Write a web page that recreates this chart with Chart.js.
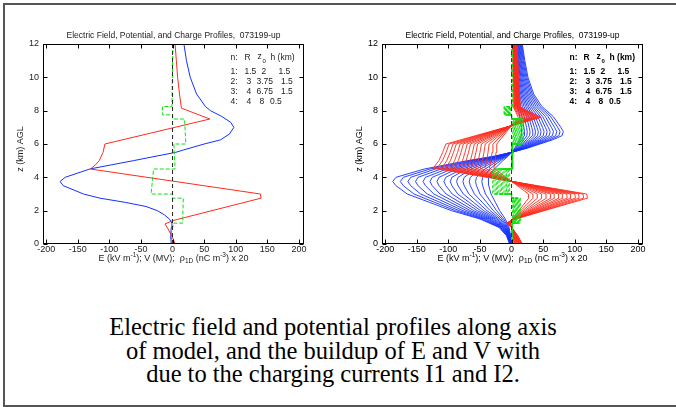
<!DOCTYPE html>
<html>
<head>
<meta charset="utf-8">
<script src="https://cdn.jsdelivr.net/npm/chart.js@4.4.1/dist/chart.umd.min.js"></script>
<style>
  body { margin: 0; width: 676px; height: 407px; background: #fff; position: relative; overflow: hidden; }
  .frame { position: absolute; left: 3px; top: 3px; width: 690px; height: 400px;
           border-top: 2px solid #555; border-left: 2px solid #555; border-bottom: 2px solid #555; }
  #leftChart { position: absolute; left: 0; top: 0; }
  #rightChart { position: absolute; left: 339px; top: 0; }
  .caption { position: absolute; left: 0; top: 315px; width: 666px; text-align: center;
             font-family: "Liberation Serif", "Times New Roman", serif; font-size: 24.5px; line-height: 23.5px; color: #000; }
</style>
</head>
<body>
<div class="frame"></div>
<canvas id="leftChart" width="338" height="280"></canvas>
<canvas id="rightChart" width="338" height="280"></canvas>
<div class="caption">Electric field and potential profiles along axis<br>of model, and the buildup of E and V with<br>due to the charging currents I1 and I2.</div>

<script>
// axis ticks
const xTicks = [-200, -150, -100, -50, 0, 50, 100, 150, 200];
const yTicks = [0, 2, 4, 6, 8, 10, 12];

// left panel: final profiles (z in km, values in plotted units)
const leftBlueZ = [0, 0.5, 1, 1.25, 1.5, 1.75, 2, 2.25, 2.5, 2.75, 3, 3.5, 3.75, 4, 4.5, 5, 5.5, 5.64, 6, 6.25, 6.6, 7, 7.3, 7.65, 8, 8.25, 9, 10, 11, 12];
const leftBlueE = [-2, -3, -2, -1, -5, -13, -24, -42, -75, -115, -141, -173, -178, -170, -131, -62, 5, 17, 50, 76, 90, 97, 92, 78, 60, 52, 38, 28, 22, 18];

const leftRedZ = [0, 0.3, 0.6, 0.9, 1.2, 1.4, 2.75, 3, 4.5, 4.75, 5, 5.5, 6, 7.5, 8.15, 9, 10, 11, 12];
const leftRedV = [4, 1, -3, -7, -12, 0, 140, 139, -130, -122, -116, -110, -107, 59, 14, 11, 8, 6, 4];

const leftGreenZ = [12, 8.25, 8.25, 7.75, 7.75, 7.5, 7.5, 6, 6, 4.5, 4.5, 3, 3, 2.75, 2.75, 1.25, 1.25, 0.6, 0];
const leftGreenRho = [0.5, -1, -16, -16, 0, 0, 19, 21, 2, 4, -30, -34, 0, 0, 17, 16, 1.5, -2, -1];

// right panel: outermost (latest) profile of each family
const rightBlueZ = [0, 0.5, 1, 1.5, 2, 2.5, 3, 3.5, 3.75, 4, 4.5, 5, 5.25, 5.5, 5.75, 6, 6.25, 6.5, 6.75, 7, 7.65, 8.25, 9, 10, 11, 12];
const rightBlueE = [-3, -8, -20, -50, -95, -130, -165, -183, -188, -183, -138, -70, -30, 0, 25, 45, 65, 80, 82, 78, 66, 48, 35, 26, 21, 17];

const rightRedZ = [0, 0.5, 1, 1.25, 1.45, 2.75, 3, 4.55, 5, 5.5, 6, 7.6, 8.2, 10, 12];
const rightRedV = [17, 10, 0, -8, 2, 120, 119, -124, -115, -109, -104, 47, 14, 11, 9];

const rightGreenZ = [12, 8.25, 8.25, 7.75, 7.75, 7.5, 7.5, 6, 6, 4.5, 4.5, 3, 3, 2.75, 2.75, 1.25, 1.25, 0];
const rightGreenRho = [0.5, 0.5, -12, -12, 0, 0, 19, 19, 2, 2, -30, -30, 0, 0, 14, 14, 1, 0];

// right panel: buildup steps
const blueMins = [-188, -176, -164, -152, -140, -129, -118, -107, -97, -87, -77, -67, -57, -47, -37];
const redPeaks = [120, 114, 107, 101, 94, 88, 81, 75, 68, 62, 55, 48, 41, 34, 27];
const greenLows = [-30, -28, -26, -24, -22, -20, -18, -16, -14, -12, -10, -8, -7, -5, -3];

const zeroZ = [0, 12];
const zeroX = [0, 0];

const BLUE = '#1430ff';
const RED = '#ff2a1a';
const GREEN = '#10e010';

function pts(xs, zs, k) {
    k = k || 1;
    return xs.map((v, i) => ({ x: v * k, y: zs[i] }));
}

function line(data, color, width, dash) {
    return {
        data: data,
        showLine: true,
        borderColor: color,
        borderWidth: width,
        borderDash: dash || [],
        pointRadius: 0,
        fill: false,
        tension: 0
    };
}

const decor = {
    id: 'decor',
    afterDraw(chart, args, opts) {
        const ctx = chart.ctx;
        const a = chart.chartArea;
        const sx = chart.scales.x, sy = chart.scales.y;
        const cx = (a.left + a.right) / 2;
        ctx.save();

        // box and inward ticks
        ctx.strokeStyle = '#000';
        ctx.lineWidth = 1;
        const L = Math.round(a.left) + 0.5, R = Math.round(a.right) - 0.5;
        const T = Math.round(a.top) + 0.5, B = Math.round(a.bottom) - 0.5;
        ctx.strokeRect(L, T, R - L, B - T);
        ctx.beginPath();
        xTicks.forEach(v => {
            const px = Math.round(sx.getPixelForValue(v)) + 0.5;
            ctx.moveTo(px, B); ctx.lineTo(px, B - 4);
            ctx.moveTo(px, T); ctx.lineTo(px, T + 4);
        });
        yTicks.forEach(v => {
            const py = Math.round(sy.getPixelForValue(v)) + 0.5;
            ctx.moveTo(L, py); ctx.lineTo(L + 4, py);
            ctx.moveTo(R, py); ctx.lineTo(R - 4, py);
        });
        ctx.stroke();

        ctx.fillStyle = opts.textColor;
        // title
        ctx.font = '8.5px "Liberation Sans", Arial, sans-serif';
        ctx.textAlign = 'center';
        ctx.textBaseline = 'middle';
        ctx.fillText('Electric Field, Potential, and Charge Profiles,  073199-up', cx, 36);

        // y label
        ctx.save();
        ctx.font = '9px "Liberation Sans", Arial, sans-serif';
        ctx.translate(21, 149);
        ctx.rotate(-Math.PI / 2);
        ctx.fillText('z (km) AGL', 0, 0);
        ctx.restore();

        // x label with super/subscripts
        const parts = [
            ['E (kV m', 'n'], ['-1', 'sup'], ['); V (MV);  ', 'n'], ['\u03c1', 'n'], ['1D', 'sub'],
            [' (nC m', 'n'], ['-3', 'sup'], [') x 20', 'n']
        ];
        const fN = '9px "Liberation Sans", Arial, sans-serif';
        const fS = '6.5px "Liberation Sans", Arial, sans-serif';
        let w = 0;
        parts.forEach(p => { ctx.font = p[1] === 'n' ? fN : fS; w += ctx.measureText(p[0]).width; });
        let px = cx - w / 2;
        ctx.textAlign = 'left';
        ctx.textBaseline = 'alphabetic';
        parts.forEach(p => {
            ctx.font = p[1] === 'n' ? fN : fS;
            const dy = p[1] === 'sup' ? -4 : (p[1] === 'sub' ? 2.5 : 0);
            ctx.fillText(p[0], px, 260.5 + dy);
            px += ctx.measureText(p[0]).width;
        });

        // parameter table
        const fw = opts.bold ? 'bold ' : '';
        ctx.font = fw + '8.5px "Liberation Sans", Arial, sans-serif';
        ctx.textBaseline = 'middle';
        const l = a.left;
        const put = (t, dx, y) => ctx.fillText(t, l + dx, y);
        put('n:', 187.5, 58); put('R', 201.5, 58); put('z', 214.5, 57);
        ctx.font = fw + '6px "Liberation Sans", Arial, sans-serif';
        put('0', 219.5, 61);
        ctx.font = fw + '8.5px "Liberation Sans", Arial, sans-serif';
        put('h (km)', 227.5, 58);
        const rows = [
            ['1:', '1.5', 201.5, '2', 218.5, '1.5', 235.5, 71.5],
            ['2:', '3', 203.5, '3.75', 213.5, '1.5', 238, 81.5],
            ['3:', '4', 203.5, '6.75', 213.5, '1.5', 238, 91.5],
            ['4:', '4', 203.5, '8', 216.5, '0.5', 227, 101.5]
        ];
        rows.forEach(r => {
            put(r[0], 187.5, r[7]); put(r[1], r[2], r[7]); put(r[3], r[4], r[7]); put(r[5], r[6], r[7]);
        });
        ctx.restore();
    }
};

function makeChart(id, datasets, bold, textColor) {
    return new Chart(document.getElementById(id), {
        type: 'scatter',
        data: { datasets: datasets },
        options: {
            responsive: false,
            animation: false,
            events: [],
            layout: { padding: { top: 44, right: 34, left: 0, bottom: 0 } },
            plugins: {
                legend: { display: false },
                tooltip: { enabled: false },
                decor: { bold: bold, textColor: textColor }
            },
            scales: {
                x: {
                    type: 'linear', min: -205, max: 208,
                    grid: { display: false, drawTicks: false },
                    border: { display: false },
                    afterBuildTicks: s => { s.ticks = xTicks.map(v => ({ value: v })); },
                    afterFit: s => { s.height = 36; },
                    ticks: { color: textColor, padding: 0, maxRotation: 0, font: { family: '"Liberation Sans", Arial, sans-serif', size: 9 } }
                },
                y: {
                    type: 'linear', min: 0, max: 12,
                    grid: { display: false, drawTicks: false },
                    border: { display: false },
                    afterBuildTicks: s => { s.ticks = yTicks.map(v => ({ value: v })); },
                    afterFit: s => { s.width = 43; },
                    ticks: { color: textColor, padding: 4, font: { family: '"Liberation Sans", Arial, sans-serif', size: 9 } }
                }
            }
        },
        plugins: [decor]
    });
}

// left chart
makeChart('leftChart', [
    line(pts(zeroX, zeroZ), '#222', 1, [4, 3]),
    line(pts(leftGreenRho, leftGreenZ), GREEN, 1, [4, 2]),
    line(pts(leftRedV, leftRedZ), RED, 1),
    line(pts(leftBlueE, leftBlueZ), BLUE, 1)
], false, '#222');

// right chart: family of buildup curves
const rightSets = [line(pts(zeroX, zeroZ), '#333', 1, [4, 3])];
greenLows.forEach(g => rightSets.push(line(pts(rightGreenRho, rightGreenZ, g / greenLows[0]), GREEN, 0.9, [3, 2])));
redPeaks.forEach(r => rightSets.push(line(pts(rightRedV, rightRedZ, r / redPeaks[0]), RED, 0.9)));
blueMins.forEach(b => rightSets.push(line(pts(rightBlueE, rightBlueZ, b / blueMins[0]), BLUE, 0.9)));
makeChart('rightChart', rightSets, true, '#000');
</script>
</body>
</html>
